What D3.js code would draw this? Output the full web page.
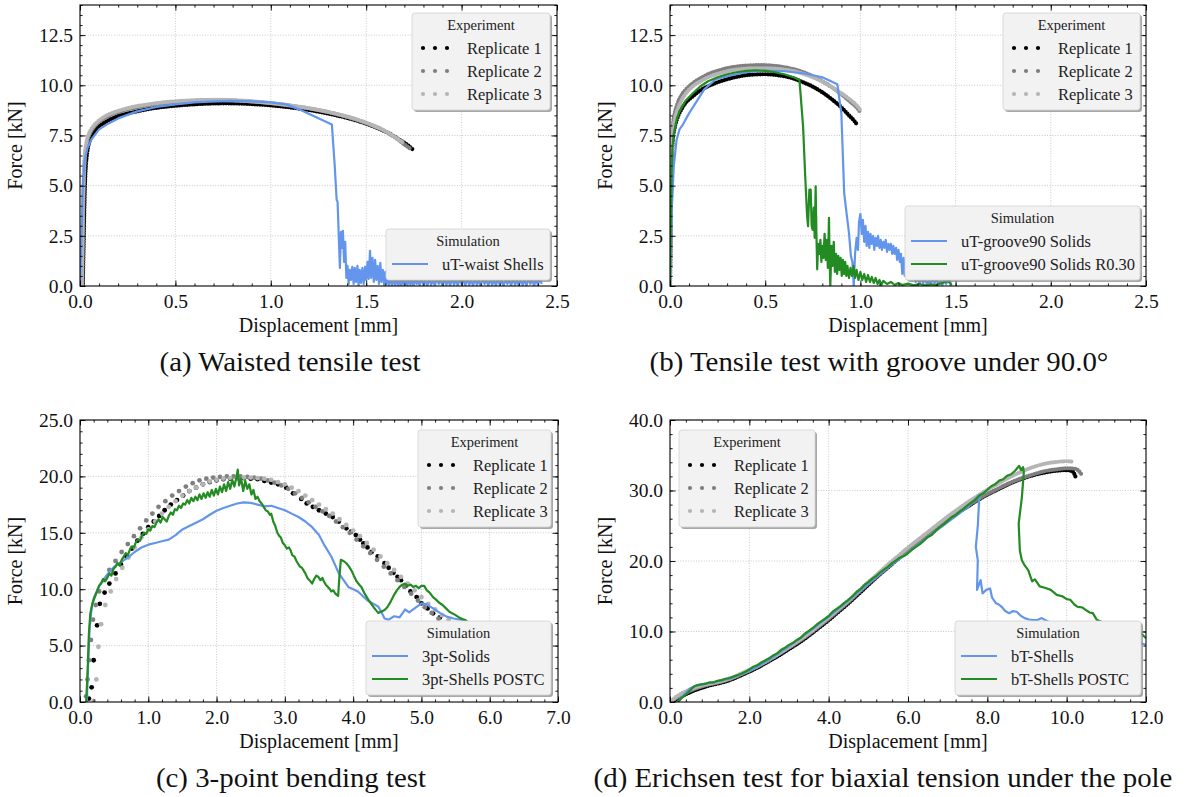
<!DOCTYPE html>
<html>
<head>
<meta charset="utf-8">
<script src="https://cdn.jsdelivr.net/npm/d3@7"></script>
<style>
  body { margin: 0; background: #ffffff; }
  svg { display: block; }
</style>
</head>
<body>
<svg id="fig" width="1189" height="797"></svg>
<script>
// ---------------------------------------------------------------------------
// Force–displacement curves: experiment replicates and simulations
// ---------------------------------------------------------------------------

// Tick values
const ticksTensileX = [0.0, 0.5, 1.0, 1.5, 2.0, 2.5];
const ticksTensileY = [0.0, 2.5, 5.0, 7.5, 10.0, 12.5];
const ticksBendingX = [0, 1, 2, 3, 4, 5, 6, 7];
const ticksBendingY = [0, 5, 10, 15, 20, 25];
const ticksErichsenX = [0, 2, 4, 6, 8, 10, 12];
const ticksErichsenY = [0, 10, 20, 30, 40];

// Captions and legend labels
const captions = [
  "(a) Waisted tensile test",
  "(b) Tensile test with groove under 90.0°",
  "(c) 3-point bending test",
  "(d) Erichsen test for biaxial tension under the pole"
];
const replicateLabels = ["Replicate 1", "Replicate 2", "Replicate 3"];
const simLabelsA = ["uT-waist Shells"];
const simLabelsB = ["uT-groove90 Solids", "uT-groove90 Solids R0.30"];
const simLabelsC = ["3pt-Solids", "3pt-Shells POSTC"];
const simLabelsD = ["bT-Shells", "bT-Shells POSTC"];

// (a) waisted tensile test — [displacement mm, force kN]
const waistRep1 = [[0.015,0],[0.018,1.5],[0.021,3.0],[0.024,4.3],[0.027,5.3],[0.031,6.0],[0.036,6.5],[0.042,6.9],[0.05,7.2],[0.06,7.45],[0.08,7.75],[0.1,7.95],[0.13,8.15],[0.17,8.35],[0.22,8.52],[0.28,8.66],[0.35,8.8],[0.42,8.9],[0.5,8.98],[0.58,9.04],[0.66,9.08],[0.75,9.1],[0.84,9.09],[0.92,9.05],[1.0,9.0],[1.08,8.92],[1.16,8.82],[1.24,8.7],[1.32,8.55],[1.4,8.37],[1.48,8.15],[1.55,7.9],[1.62,7.6],[1.68,7.25],[1.72,7.0],[1.75,6.75]];
const waistRep2 = [[0.012,0],[0.015,2],[0.018,4],[0.022,5.5],[0.026,6.4],[0.032,6.9],[0.04,7.3],[0.05,7.55],[0.065,7.8],[0.085,8.05],[0.11,8.25],[0.14,8.43],[0.18,8.6],[0.23,8.75],[0.3,8.9],[0.38,9.03],[0.46,9.12],[0.55,9.2],[0.65,9.24],[0.75,9.25],[0.85,9.22],[0.95,9.15],[1.05,9.05],[1.15,8.92],[1.25,8.76],[1.35,8.55],[1.45,8.28],[1.53,8.0],[1.6,7.7],[1.66,7.35],[1.7,7.05],[1.73,6.85]];
const waistRep3 = [[0.01,0],[0.013,2.2],[0.016,4.2],[0.02,5.7],[0.025,6.5],[0.031,7.0],[0.04,7.4],[0.05,7.65],[0.065,7.9],[0.085,8.12],[0.11,8.32],[0.14,8.5],[0.18,8.66],[0.23,8.81],[0.3,8.96],[0.38,9.08],[0.46,9.17],[0.55,9.23],[0.65,9.27],[0.75,9.27],[0.85,9.23],[0.95,9.16],[1.05,9.06],[1.15,8.93],[1.25,8.77],[1.35,8.56],[1.45,8.3],[1.53,8.02],[1.6,7.72],[1.65,7.42],[1.7,7.1]];
const waistShells = [[0,0],[0.008,2.5],[0.015,5.0],[0.025,6.3],[0.04,6.9],[0.06,7.3],[0.1,7.8],[0.15,8.1],[0.2,8.35],[0.3,8.7],[0.4,8.92],[0.5,9.05],[0.6,9.15],[0.7,9.2],[0.8,9.22],[0.9,9.2],[1.0,9.15],[1.08,9.05],[1.148,8.8],[1.32,8.05],[1.335,6.0],[1.345,4.3],[1.35,4.2],[1.358,2.0],[1.362,0.9],[1.368,2.7],[1.372,1.9],[1.378,2.75],[1.384,1.2],[1.39,2.2],[1.396,0.4],[1.402,1.0],[1.408,0.1],[1.414,0.8],[1.42,0.3],[1.427,0.95],[1.434,0.1],[1.44,0.9],[1.447,0.2],[1.454,1.0],[1.46,0.0],[1.466,0.8],[1.473,0.15],[1.48,0.9],[1.487,0.1],[1.494,0.95],[1.5,0.3],[1.507,1.2],[1.513,0.35],[1.52,1.75],[1.526,0.4],[1.533,1.4],[1.54,0.2],[1.547,1.3],[1.553,0.3],[1.56,1.0],[1.567,0.1],[1.574,1.15],[1.58,0.2],[1.587,0.8],[1.594,0.05],[1.6,0.7],[1.607,0.1],[1.614,0.6],[1.62,0.05],[1.628,0.45],[1.636,0.0],[1.644,0.4],[1.652,0.05],[1.66,0.35],[1.668,0.0],[1.676,0.3],[1.684,0.0],[1.692,0.35],[1.7,0.05],[1.708,0.3],[1.716,0.0],[1.724,0.4],[1.732,0.05],[1.74,0.3],[1.748,0.0],[1.756,0.35],[1.764,0.1],[1.772,0.3],[1.78,0.0],[1.79,0.4],[1.8,0.05],[1.81,0.3],[1.82,0.0],[1.83,0.35],[1.84,0.05],[1.85,0.3],[1.86,0.0],[1.87,0.4],[1.88,0.1],[1.89,0.3],[1.9,0.0],[1.91,0.35],[1.92,0.05],[1.93,0.3],[1.94,0.0],[1.95,0.4],[1.96,0.05],[1.97,0.3],[1.98,0.0],[1.99,0.35],[2.0,0.1],[2.01,0.3],[2.02,0.0],[2.03,0.4],[2.04,0.05],[2.05,0.3],[2.06,0.0],[2.07,0.35],[2.08,0.05],[2.09,0.3],[2.1,0.0],[2.11,0.4],[2.12,0.1],[2.13,0.3],[2.14,0.0],[2.15,0.35],[2.16,0.05],[2.17,0.3],[2.18,0.0],[2.19,0.4],[2.2,0.05],[2.21,0.3],[2.22,0.0],[2.23,0.35],[2.24,0.1],[2.25,0.3],[2.26,0.0],[2.27,0.4],[2.28,0.05],[2.29,0.3],[2.3,0.0],[2.31,0.35],[2.32,0.05],[2.33,0.3],[2.34,0.0],[2.35,0.4],[2.36,0.1],[2.37,0.3],[2.38,0.0],[2.39,0.35],[2.4,0.05],[2.41,0.4],[2.42,0.1]];

// (b) tensile test with 90° groove
const grooveRep1 = [[0.0,0],[0.003,2],[0.006,4.5],[0.01,6.3],[0.015,7.3],[0.025,7.9],[0.04,8.4],[0.06,8.8],[0.08,9.1],[0.12,9.45],[0.16,9.75],[0.2,9.95],[0.25,10.15],[0.3,10.3],[0.35,10.42],[0.4,10.5],[0.45,10.54],[0.5,10.55],[0.55,10.52],[0.6,10.45],[0.65,10.33],[0.7,10.15],[0.75,9.93],[0.8,9.65],[0.85,9.3],[0.9,8.9],[0.94,8.5],[0.97,8.2],[0.985,8.0]];
const grooveRep2 = [[0.0,0],[0.003,3],[0.006,5.5],[0.01,7.2],[0.015,8.0],[0.025,8.6],[0.04,9.1],[0.06,9.5],[0.08,9.75],[0.12,10.1],[0.16,10.35],[0.2,10.55],[0.25,10.72],[0.3,10.85],[0.35,10.93],[0.4,10.98],[0.45,11.0],[0.5,11.0],[0.55,10.97],[0.6,10.9],[0.65,10.8],[0.7,10.65],[0.75,10.45],[0.8,10.2],[0.85,9.9],[0.9,9.55],[0.95,9.15],[0.98,8.9],[1.0,8.65]];
const grooveRep3 = [[0,0],[0.003,2.5],[0.006,5],[0.01,6.8],[0.015,7.7],[0.025,8.3],[0.04,8.8],[0.06,9.25],[0.08,9.55],[0.12,9.95],[0.16,10.2],[0.2,10.4],[0.25,10.57],[0.3,10.7],[0.35,10.78],[0.4,10.83],[0.45,10.85],[0.5,10.85],[0.55,10.83],[0.6,10.78],[0.65,10.7],[0.7,10.57],[0.75,10.4],[0.8,10.18],[0.85,9.9],[0.9,9.6],[0.95,9.25],[0.98,9.0],[1.0,8.75]];
const grooveSolids = [[0,0],[0.005,2],[0.01,4],[0.02,6],[0.035,7.3],[0.05,7.8],[0.065,8.0],[0.1,8.6],[0.14,9.2],[0.18,9.8],[0.24,10.3],[0.3,10.45],[0.4,10.65],[0.5,10.73],[0.6,10.7],[0.7,10.6],[0.8,10.4],[0.879,10.05],[0.9,8.6],[0.915,4.6],[0.925,3.8],[0.94,2.65],[0.95,1.5],[0.958,1.2],[0.965,0.0],[0.972,1.6],[0.98,2.4],[0.987,1.8],[0.993,3.2],[1.0,3.6],[1.007,2.6],[1.013,3.3],[1.02,2.2],[1.027,3.0],[1.033,2.0],[1.04,2.7],[1.047,1.9],[1.053,2.6],[1.06,2.1],[1.067,2.5],[1.073,1.8],[1.08,2.4],[1.087,2.0],[1.093,2.5],[1.1,1.9],[1.107,2.3],[1.113,1.8],[1.12,2.2],[1.127,1.9],[1.133,2.3],[1.14,1.7],[1.147,2.1],[1.153,1.8],[1.16,2.1],[1.167,1.6],[1.173,2.0],[1.18,1.6],[1.187,1.9],[1.193,1.3],[1.2,1.8],[1.207,1.2],[1.213,1.6],[1.22,0.6],[1.227,1.4],[1.233,0.5],[1.24,1.0],[1.25,0.4],[1.26,0.8],[1.27,0.3],[1.28,0.6],[1.29,0.2],[1.3,0.45],[1.31,0.1],[1.32,0.4],[1.33,0.15],[1.34,0.35],[1.35,0.05],[1.36,0.3],[1.37,0.1],[1.38,0.35],[1.39,0.15],[1.4,0.3],[1.41,0.1],[1.42,0.25],[1.43,0.05],[1.44,0.3],[1.45,0.1],[1.46,0.25],[1.47,0.4],[1.475,0.0]];
const grooveSolidsR030 = [[0,0],[0.004,3],[0.008,5.5],[0.012,6.8],[0.02,7.6],[0.035,8.3],[0.05,8.7],[0.08,9.2],[0.12,9.6],[0.16,9.95],[0.2,10.2],[0.25,10.4],[0.3,10.55],[0.35,10.65],[0.4,10.72],[0.45,10.75],[0.5,10.72],[0.55,10.65],[0.6,10.55],[0.65,10.4],[0.68,10.26],[0.699,7.95],[0.71,5.5],[0.72,3.5],[0.725,2.98],[0.732,4.8],[0.739,4.8],[0.744,3.0],[0.749,2.8],[0.755,3.9],[0.76,2.4],[0.765,4.97],[0.769,2.6],[0.773,0.83],[0.778,2.1],[0.785,1.6],[0.79,2.3],[0.795,1.2],[0.8,2.0],[0.806,1.4],[0.812,2.6],[0.818,1.3],[0.824,2.3],[0.829,0.9],[0.835,3.4],[0.838,1.5],[0.842,0.0],[0.848,2.0],[0.853,1.0],[0.86,2.2],[0.866,0.7],[0.872,1.6],[0.878,0.6],[0.884,1.5],[0.89,0.8],[0.896,1.4],[0.902,0.5],[0.908,1.3],[0.914,0.6],[0.92,1.2],[0.926,0.5],[0.932,1.0],[0.94,0.4],[0.948,0.9],[0.956,0.5],[0.964,1.0],[0.972,0.4],[0.98,0.8],[0.99,0.3],[1.0,0.7],[1.01,0.3],[1.02,0.6],[1.03,0.2],[1.04,0.55],[1.05,0.2],[1.06,0.45],[1.07,0.15],[1.08,0.4],[1.09,0.1],[1.1,0.3],[1.11,0.05],[1.12,0.25],[1.14,0.1],[1.16,0.2],[1.18,0.05],[1.2,0.15],[1.22,0.05],[1.25,0.12],[1.28,0.03],[1.31,0.1],[1.34,0.03],[1.37,0.08],[1.4,0.05],[1.43,0.15],[1.46,0.25],[1.48,0.05]];

// (c) 3-point bending — experiment samples are sparse, drawn one marker per sample
const bendRep1 = [[0.13,0.3],[0.17,1.3],[0.2,3.7],[0.25,6.8],[0.29,8.7],[0.36,9.7],[0.43,10.5],[0.52,11.4],[0.6,12.2],[0.68,12.9],[0.76,13.6],[0.84,14.3],[0.92,14.9],[1.0,15.5],[1.08,16.0],[1.16,16.5],[1.24,17.0],[1.33,17.5],[1.42,17.9],[1.51,18.3],[1.6,18.7],[1.7,19.0],[1.8,19.3],[1.9,19.5],[2.0,19.65],[2.1,19.75],[2.2,19.8],[2.3,19.85],[2.4,19.85],[2.5,19.8],[2.6,19.75],[2.7,19.6],[2.8,19.45],[2.9,19.3],[3.02,19.0],[3.12,18.5],[3.24,18.0],[3.32,17.6],[3.41,17.3],[3.5,17.0],[3.6,16.7],[3.7,16.4],[3.79,16.0],[3.9,15.4],[3.97,15.1],[4.04,14.8],[4.1,14.4],[4.15,14.05],[4.21,13.7],[4.27,13.3],[4.36,12.9],[4.46,12.3],[4.52,11.9],[4.59,11.45],[4.65,11.1],[4.7,10.8],[4.77,10.3],[4.84,9.8],[4.93,9.3],[5.0,8.75],[5.09,8.3],[5.17,7.86],[5.27,7.5]];
const bendRep2 = [[0.09,0.5],[0.11,2.0],[0.13,3.7],[0.16,5.5],[0.19,7.3],[0.23,8.6],[0.28,9.8],[0.35,10.8],[0.43,11.7],[0.52,12.5],[0.61,13.3],[0.7,14.0],[0.79,14.7],[0.88,15.4],[0.97,16.1],[1.06,16.7],[1.15,17.3],[1.25,17.8],[1.35,18.3],[1.45,18.7],[1.55,19.1],[1.65,19.4],[1.75,19.65],[1.85,19.8],[1.95,19.9],[2.05,19.95],[2.15,20.0],[2.25,20.0],[2.35,20.0],[2.45,19.95],[2.55,19.9],[2.65,19.8],[2.75,19.65],[2.85,19.45],[2.95,19.2],[3.05,18.9],[3.15,18.5],[3.25,18.1],[3.35,17.7],[3.45,17.3],[3.55,16.9],[3.65,16.5],[3.75,16.0],[3.85,15.5],[3.95,15.0],[4.05,14.4],[4.15,13.8],[4.25,13.2],[4.35,12.6],[4.45,12.0],[4.55,11.4],[4.65,10.8],[4.75,10.2],[4.85,9.6],[4.95,9.0],[5.05,8.4],[5.15,7.9],[5.25,7.4]];
const bendRep3 = [[0.2,0.1],[0.24,2.0],[0.27,4.9],[0.31,6.9],[0.37,8.6],[0.45,9.8],[0.53,10.9],[0.62,11.9],[0.71,12.8],[0.8,13.7],[0.9,14.6],[1.0,15.3],[1.1,16.0],[1.2,16.7],[1.3,17.3],[1.4,17.8],[1.5,18.3],[1.6,18.7],[1.7,19.0],[1.8,19.3],[1.9,19.55],[2.0,19.7],[2.1,19.8],[2.2,19.85],[2.3,19.9],[2.4,19.9],[2.5,19.9],[2.6,19.85],[2.7,19.8],[2.8,19.7],[2.9,19.5],[3.0,19.3],[3.1,19.0],[3.2,18.7],[3.3,18.3],[3.4,17.9],[3.5,17.5],[3.6,17.1],[3.7,16.7],[3.8,16.2],[3.9,15.7],[4.0,15.2],[4.1,14.7],[4.2,14.1],[4.3,13.5],[4.4,12.9],[4.5,12.3],[4.6,11.7],[4.7,11.1],[4.8,10.5],[4.9,9.9],[5.0,9.3],[5.1,8.7],[5.2,8.2],[5.3,7.7],[5.4,7.3]];
const bendSolids = [[0.1,0],[0.12,3.5],[0.14,6.5],[0.17,8.3],[0.2,9.2],[0.25,9.9],[0.3,10.5],[0.4,11.3],[0.5,12.0],[0.6,12.4],[0.7,12.8],[0.8,13.3],[0.9,13.7],[1.0,13.95],[1.1,14.1],[1.2,14.25],[1.3,14.4],[1.4,14.8],[1.5,15.3],[1.6,15.6],[1.7,15.9],[1.8,16.2],[1.9,16.6],[2.0,16.95],[2.1,17.2],[2.2,17.4],[2.3,17.6],[2.4,17.7],[2.5,17.65],[2.6,17.5],[2.7,17.35],[2.8,17.4],[2.9,17.2],[3.0,17.0],[3.1,16.7],[3.2,16.4],[3.3,16.0],[3.4,15.5],[3.5,14.8],[3.57,14.0],[3.68,12.9],[3.79,11.4],[3.86,10.8],[3.93,10.2],[4.0,10.0],[4.07,9.8],[4.14,9.4],[4.21,9.0],[4.3,8.7],[4.37,8.45],[4.42,7.9],[4.46,7.4],[4.52,7.3],[4.6,7.6],[4.68,7.5],[4.76,8.2],[4.82,7.95],[4.9,8.3],[5.0,8.75],[5.08,8.65],[5.17,8.3],[5.27,7.9],[5.37,7.57],[5.47,7.4],[5.59,7.27],[5.7,7.0],[5.8,6.8]];
const bendShellsPostc = [[0.09,0],[0.11,2.5],[0.13,6.0],[0.15,7.8],[0.18,8.7],[0.21,9.2],[0.25,9.8],[0.28,10.3],[0.31,10.5],[0.34,10.9],[0.37,10.7],[0.4,11.0],[0.43,11.4],[0.46,11.2],[0.49,11.8],[0.52,12.0],[0.55,12.3],[0.58,12.1],[0.61,12.6],[0.64,12.9],[0.67,13.2],[0.7,13.0],[0.73,13.5],[0.76,13.8],[0.79,13.7],[0.82,14.2],[0.85,14.4],[0.88,14.3],[0.91,14.8],[0.94,15.0],[0.97,14.9],[1.0,15.3],[1.03,15.2],[1.06,15.6],[1.09,15.5],[1.12,15.9],[1.15,16.2],[1.18,15.9],[1.21,16.4],[1.24,16.2],[1.27,16.0],[1.3,16.5],[1.33,16.8],[1.36,16.6],[1.39,17.1],[1.42,17.0],[1.45,17.4],[1.48,17.2],[1.51,17.6],[1.54,17.5],[1.57,17.9],[1.6,17.6],[1.63,18.1],[1.66,17.8],[1.69,18.2],[1.72,17.9],[1.75,18.4],[1.78,18.0],[1.81,18.5],[1.84,18.1],[1.87,18.6],[1.9,18.2],[1.93,18.8],[1.96,18.3],[1.99,18.9],[2.02,18.4],[2.05,19.1],[2.08,18.6],[2.11,19.3],[2.14,18.7],[2.17,19.5],[2.2,18.9],[2.23,19.7],[2.26,19.1],[2.29,19.9],[2.31,20.6],[2.33,19.2],[2.36,19.8],[2.39,18.7],[2.42,19.6],[2.45,18.9],[2.48,19.3],[2.51,18.4],[2.54,18.8],[2.57,18.0],[2.6,18.2],[2.63,17.8],[2.66,17.6],[2.69,17.3],[2.72,17.0],[2.75,16.9],[2.78,16.6],[2.8,16.7],[2.83,16.0],[2.86,15.6],[2.89,15.0],[2.92,14.7],[2.94,14.6],[2.97,14.1],[3.0,13.9],[3.03,13.6],[3.06,13.7],[3.08,13.5],[3.11,13.0],[3.14,12.9],[3.17,12.5],[3.19,12.3],[3.22,12.0],[3.25,11.9],[3.28,11.6],[3.3,11.4],[3.33,11.0],[3.36,10.8],[3.4,10.5],[3.43,10.9],[3.46,11.2],[3.49,11.1],[3.52,10.8],[3.55,11.0],[3.57,10.7],[3.6,10.4],[3.63,10.2],[3.66,10.0],[3.68,9.8],[3.71,9.9],[3.74,9.6],[3.78,9.4],[3.8,11.2],[3.82,12.6],[3.86,12.5],[3.9,12.3],[3.94,12.0],[3.98,11.6],[4.01,11.2],[4.05,10.7],[4.09,10.4],[4.12,10.2],[4.16,9.7],[4.2,9.3],[4.23,9.0],[4.26,8.75],[4.3,8.4],[4.34,8.1],[4.37,7.9],[4.41,8.0],[4.46,8.15],[4.5,8.4],[4.55,8.9],[4.6,9.5],[4.64,9.9],[4.68,10.2],[4.72,10.4],[4.76,10.5],[4.8,10.3],[4.84,10.4],[4.88,10.2],[4.92,10.3],[4.96,10.1],[5.0,10.3],[5.04,10.3],[5.08,9.9],[5.12,9.7],[5.17,9.3],[5.21,9.1],[5.26,8.8],[5.31,8.6],[5.36,8.3],[5.41,8.0],[5.45,7.86],[5.5,7.7],[5.55,7.5],[5.6,7.35],[5.64,7.27],[5.7,7.0]];

// (d) Erichsen test
const erichRep1 = [[0,0],[0.2,0.5],[0.4,1.1],[0.6,1.6],[0.8,2.0],[1.0,2.35],[1.2,2.6],[1.4,2.9],[1.6,3.3],[1.8,3.8],[2.0,4.3],[2.25,5.0],[2.5,5.8],[2.75,6.6],[3.0,7.5],[3.25,8.4],[3.5,9.4],[3.75,10.5],[4.0,11.6],[4.25,12.8],[4.5,14.0],[4.75,15.3],[5.0,16.6],[5.25,17.9],[5.5,19.1],[5.75,20.3],[6.0,21.5],[6.25,22.6],[6.5,23.7],[6.75,24.8],[7.0,25.8],[7.25,26.8],[7.5,27.7],[7.75,28.6],[8.0,29.4],[8.25,30.1],[8.5,30.8],[8.75,31.4],[9.0,31.9],[9.25,32.3],[9.5,32.6],[9.75,32.8],[10.0,32.9],[10.15,32.7],[10.22,32.0]];
const erichRep2 = [[0,0],[0.2,0.7],[0.4,1.3],[0.6,1.8],[0.8,2.2],[1.0,2.5],[1.2,2.75],[1.4,3.05],[1.6,3.45],[1.8,3.95],[2.0,4.45],[2.25,5.15],[2.5,5.95],[2.75,6.8],[3.0,7.7],[3.25,8.6],[3.5,9.6],[3.75,10.7],[4.0,11.8],[4.25,13.0],[4.5,14.2],[4.75,15.5],[5.0,16.8],[5.25,18.0],[5.5,19.2],[5.75,20.4],[6.0,21.6],[6.25,22.7],[6.5,23.8],[6.75,24.9],[7.0,25.9],[7.25,26.9],[7.5,27.8],[7.75,28.7],[8.0,29.5],[8.25,30.2],[8.5,30.9],[8.75,31.5],[9.0,32.0],[9.25,32.45],[9.5,32.8],[9.75,33.0],[10.0,33.15],[10.2,33.1],[10.3,32.8],[10.37,32.3]];
const erichRep3 = [[0,0],[0.2,0.9],[0.4,1.5],[0.6,2.0],[0.8,2.35],[1.0,2.6],[1.2,2.85],[1.4,3.15],[1.6,3.55],[1.8,4.05],[2.0,4.55],[2.25,5.25],[2.5,6.05],[2.75,6.9],[3.0,7.8],[3.25,8.75],[3.5,9.75],[3.75,10.85],[4.0,12.0],[4.25,13.2],[4.5,14.4],[4.75,15.7],[5.0,17.0],[5.25,18.25],[5.5,19.5],[5.75,20.7],[6.0,21.9],[6.25,23.0],[6.5,24.1],[6.75,25.2],[7.0,26.3],[7.25,27.3],[7.5,28.3],[7.75,29.2],[8.0,30.1],[8.25,30.9],[8.5,31.7],[8.75,32.4],[9.0,33.0],[9.25,33.5],[9.5,33.85],[9.75,34.05],[10.0,34.15],[10.13,34.1]];
const erichShells = [[0.2,0],[0.35,1.0],[0.5,1.9],[0.7,2.4],[1.0,2.7],[1.5,3.3],[2.0,4.4],[2.5,6.0],[3.0,7.9],[3.5,10.0],[4.0,12.1],[4.5,14.4],[5.0,16.8],[5.5,19.1],[6.0,21.2],[6.5,23.4],[7.0,25.5],[7.5,27.6],[7.8,29.4],[7.76,25.0],[7.71,22.0],[7.76,20.1],[7.74,15.9],[7.83,17.3],[7.88,15.4],[7.97,15.9],[8.07,16.1],[8.12,14.8],[8.22,14.0],[8.3,13.8],[8.36,13.5],[8.45,12.9],[8.55,12.6],[8.65,12.9],[8.74,12.8],[8.85,12.2],[8.94,11.9],[9.05,11.7],[9.13,11.65],[9.25,11.6],[9.37,11.9],[9.6,11.2],[10.0,10.5],[10.5,9.8],[11.0,9.2],[11.5,8.6],[11.86,8.35],[12.0,8.1]];
const erichShellsPostc = [[0.2,0],[0.3,0.6],[0.45,1.3],[0.6,2.2],[0.7,2.4],[0.8,2.5],[0.9,2.6],[1.0,2.8],[1.1,2.75],[1.2,3.0],[1.3,3.1],[1.4,3.3],[1.5,3.4],[1.6,3.6],[1.7,3.8],[1.8,4.0],[1.9,4.3],[2.0,4.6],[2.1,5.0],[2.2,5.2],[2.3,5.6],[2.4,5.9],[2.5,6.2],[2.6,6.6],[2.7,6.9],[2.8,7.4],[2.9,7.7],[3.0,8.1],[3.1,8.4],[3.2,8.8],[3.3,9.1],[3.4,9.7],[3.5,10.1],[3.6,10.5],[3.7,11.0],[3.8,11.4],[3.9,11.8],[4.0,12.2],[4.1,12.8],[4.2,13.2],[4.3,13.6],[4.4,14.1],[4.5,14.5],[4.6,15.0],[4.7,15.6],[4.8,16.0],[4.9,16.6],[5.0,17.0],[5.1,17.5],[5.2,17.9],[5.3,18.4],[5.4,18.8],[5.5,19.2],[5.6,19.7],[5.7,20.1],[5.8,20.5],[5.9,20.7],[6.0,21.1],[6.1,21.6],[6.2,22.0],[6.3,22.4],[6.4,22.9],[6.5,23.4],[6.6,23.7],[6.7,24.3],[6.8,24.8],[6.9,25.2],[7.0,25.7],[7.1,26.2],[7.2,26.5],[7.3,27.0],[7.4,27.4],[7.5,27.9],[7.6,28.3],[7.7,28.7],[7.8,29.3],[7.9,29.6],[8.0,30.1],[8.1,30.6],[8.2,30.9],[8.3,31.4],[8.4,31.6],[8.5,32.1],[8.6,32.3],[8.7,32.8],[8.8,33.5],[8.85,32.9],[8.9,33.3],[8.92,32.6],[8.87,29.0],[8.79,25.3],[8.82,21.5],[8.87,20.1],[8.95,19.3],[9.03,18.7],[9.13,17.1],[9.2,17.4],[9.32,16.4],[9.45,16.2],[9.6,15.9],[9.75,15.2],[9.89,15.0],[10.0,14.6],[10.09,14.5],[10.2,13.8],[10.28,13.5],[10.4,13.4],[10.47,13.1],[10.58,12.7],[10.66,12.6],[10.76,11.65],[10.9,11.3],[11.2,10.8],[11.5,10.3],[11.8,9.9],[11.9,9.6],[12.0,9.05]];

// ---------------------------------------------------------------------------
// Styling and layout
// ---------------------------------------------------------------------------
const FONT = '"Liberation Serif", "Times New Roman", serif';
const repColors = ["#000000", "#7f7f7f", "#b5b5b5"];
const simColors = ["#6495ed", "#228b22"];
const fmt = d3.format(".1f");

const panels = [
  { box: [80, 5, 557, 286], xDom: [0, 2.5], yDom: [0, 14], xTicks: ticksTensileX, yTicks: ticksTensileY,
    xMinor: 0.1, yMinor: 0.5, reps: [waistRep1, waistRep2, waistRep3], repMode: "dense",
    sims: [waistShells], simLabels: simLabelsA, caption: captions[0], capX: 290,
    expLegend: [412, 13, 138], simLegend: [386, 229, 164] },
  { box: [670, 5, 1146, 286], xDom: [0, 2.5], yDom: [0, 14], xTicks: ticksTensileX, yTicks: ticksTensileY,
    xMinor: 0.1, yMinor: 0.5, reps: [grooveRep1, grooveRep2, grooveRep3], repMode: "dense",
    sims: [grooveSolids, grooveSolidsR030], simLabels: simLabelsB, caption: captions[1], capX: 879,
    expLegend: [1003, 13, 137], simLegend: [905, 206, 235] },
  { box: [80, 420, 558, 702], xDom: [0, 7], yDom: [0, 25], xTicks: ticksBendingX, yTicks: ticksBendingY,
    xMinor: 0.2, yMinor: 1, reps: [bendRep1, bendRep2, bendRep3], repMode: "sparse",
    sims: [bendSolids, bendShellsPostc], simLabels: simLabelsC, caption: captions[2], capX: 291,
    expLegend: [418, 430, 133], simLegend: [366, 621, 185] },
  { box: [670, 420, 1146, 702], xDom: [0, 12], yDom: [0, 40], xTicks: ticksErichsenX, yTicks: ticksErichsenY,
    xMinor: 0.4, yMinor: 2, reps: [erichRep1, erichRep2, erichRep3], repMode: "dense",
    sims: [erichShells, erichShellsPostc], simLabels: simLabelsD, caption: captions[3], capX: 883,
    expLegend: [679, 430, 136], simLegend: [955, 621, 186] }
];

const svg = d3.select("#fig");
svg.append("rect").attr("width", 1189).attr("height", 797).attr("fill", "#fff");
const defs = svg.append("defs");
const shadow = defs.append("filter").attr("id", "legshadow").attr("x", "-10%").attr("y", "-10%").attr("width", "130%").attr("height", "130%");
shadow.append("feGaussianBlur").attr("stdDeviation", 0.6);

function range(lo, hi, step) {
  const n = Math.round((hi - lo) / step);
  return d3.range(n + 1).map(i => lo + i * step);
}

panels.forEach((p, idx) => {
  const [L, T, R, B] = p.box;
  const x = d3.scaleLinear().domain(p.xDom).range([L, R]);
  const y = d3.scaleLinear().domain(p.yDom).range([B, T]);
  const g = svg.append("g");

  const clipId = "clip" + idx;
  defs.append("clipPath").attr("id", clipId)
    .append("rect").attr("x", L).attr("y", T).attr("width", R - L).attr("height", B - T);

  // dotted grid at major ticks
  const grid = g.append("g").attr("stroke", "#bdbdbd").attr("stroke-width", 0.8).attr("stroke-dasharray", "1,1.6");
  grid.selectAll(".gx").data(p.xTicks.slice(1, -1)).join("line")
    .attr("x1", d => x(d)).attr("x2", d => x(d)).attr("y1", T).attr("y2", B);
  grid.selectAll(".gy").data(p.yTicks.slice(1)).join("line")
    .attr("y1", d => y(d)).attr("y2", d => y(d)).attr("x1", L).attr("x2", R);

  const plot = g.append("g").attr("clip-path", `url(#${clipId})`);

  // experiment replicates
  const line = d3.line().x(d => x(d[0])).y(d => y(d[1]));
  p.reps.forEach((rep, i) => {
    if (p.repMode === "dense") {
      plot.append("path").datum(rep)
        .attr("d", line.curve(d3.curveMonotoneX))
        .attr("fill", "none").attr("stroke", repColors[i])
        .attr("stroke-width", 4.2).attr("stroke-linecap", "round")
        .attr("stroke-dasharray", "0 2.6");
    } else {
      plot.append("g").attr("fill", repColors[i]).selectAll("circle").data(rep).join("circle")
        .attr("cx", d => x(d[0])).attr("cy", d => y(d[1])).attr("r", 2.4);
    }
  });

  // simulations
  const simLine = d3.line().x(d => x(d[0])).y(d => y(d[1])).curve(d3.curveLinear);
  p.sims.forEach((s, i) => {
    plot.append("path").datum(s).attr("d", simLine)
      .attr("fill", "none").attr("stroke", simColors[i])
      .attr("stroke-width", 2.2).attr("stroke-linejoin", "round");
  });

  // axes with inward major/minor ticks on all four sides
  const minorX = range(p.xDom[0], p.xDom[1], p.xMinor);
  const minorY = range(p.yDom[0], p.yDom[1], p.yMinor);
  const axStyle = sel => {
    sel.select(".domain").remove();
    sel.selectAll("line").attr("stroke", "#000").attr("stroke-width", 0.9);
    sel.attr("font-family", FONT).attr("font-size", 19.5);
    sel.selectAll("text").attr("fill", "#111");
  };
  g.append("g").attr("transform", `translate(0,${B})`)
    .call(d3.axisBottom(x).tickValues(minorX).tickSize(-2.6).tickFormat("")).call(axStyle);
  g.append("g").attr("transform", `translate(0,${B})`)
    .call(d3.axisBottom(x).tickValues(p.xTicks).tickSize(-5.5).tickPadding(8).tickFormat(fmt)).call(axStyle);
  g.append("g").attr("transform", `translate(0,${T})`)
    .call(d3.axisTop(x).tickValues(minorX).tickSize(-2.6).tickFormat("")).call(axStyle);
  g.append("g").attr("transform", `translate(0,${T})`)
    .call(d3.axisTop(x).tickValues(p.xTicks).tickSize(-5.5).tickFormat("")).call(axStyle);
  g.append("g").attr("transform", `translate(${L},0)`)
    .call(d3.axisLeft(y).tickValues(minorY).tickSize(-2.6).tickFormat("")).call(axStyle);
  g.append("g").attr("transform", `translate(${L},0)`)
    .call(d3.axisLeft(y).tickValues(p.yTicks).tickSize(-5.5).tickPadding(7).tickFormat(fmt)).call(axStyle);
  g.append("g").attr("transform", `translate(${R},0)`)
    .call(d3.axisRight(y).tickValues(minorY).tickSize(-2.6).tickFormat("")).call(axStyle);
  g.append("g").attr("transform", `translate(${R},0)`)
    .call(d3.axisRight(y).tickValues(p.yTicks).tickSize(-5.5).tickFormat("")).call(axStyle);

  g.append("rect").attr("x", L).attr("y", T).attr("width", R - L).attr("height", B - T)
    .attr("fill", "none").attr("stroke", "#000").attr("stroke-width", 1.1);

  // axis titles
  g.append("text").attr("x", (L + R) / 2).attr("y", B + 46).attr("text-anchor", "middle")
    .attr("font-family", FONT).attr("font-size", 20).attr("fill", "#111").text("Displacement [mm]");
  g.append("text").attr("transform", `translate(${L - 58},${(T + B) / 2}) rotate(-90)`)
    .attr("text-anchor", "middle").attr("font-family", FONT).attr("font-size", 20).attr("fill", "#111")
    .text("Force [kN]");

  // sub-figure caption (slightly widened serif face)
  g.append("g").attr("transform", `translate(${p.capX},${B + 85}) scale(1.09,1)`)
    .append("text").attr("x", 0).attr("y", 0).attr("text-anchor", "middle")
    .attr("font-family", FONT).attr("font-size", 26.5).attr("fill", "#111")
    .text(p.caption);

  // legends
  drawLegend(g, p.expLegend, "Experiment", replicateLabels.map((t, i) => ({ label: t, color: repColors[i], kind: "dots" })));
  drawLegend(g, p.simLegend, "Simulation", p.simLabels.map((t, i) => ({ label: t, color: simColors[i], kind: "line" })));
});

function drawLegend(g, spec, title, items) {
  const [lx, ly, lw] = spec;
  const lh = 28 + items.length * 23;
  const lg = g.append("g");
  lg.append("rect").attr("x", lx + 2).attr("y", ly + 2).attr("width", lw).attr("height", lh)
    .attr("rx", 3).attr("fill", "#8c8c8c").attr("opacity", 0.75).attr("filter", "url(#legshadow)");
  lg.append("rect").attr("x", lx).attr("y", ly).attr("width", lw).attr("height", lh)
    .attr("rx", 3).attr("fill", "#f2f2f2").attr("stroke", "#d2d2d2").attr("stroke-width", 0.8);
  lg.append("text").attr("x", lx + lw / 2).attr("y", ly + 17).attr("text-anchor", "middle")
    .attr("font-family", FONT).attr("font-size", 14.5).attr("fill", "#222").text(title);
  items.forEach((it, i) => {
    const cy = ly + 35 + i * 23;
    if (it.kind === "dots") {
      lg.append("g").attr("fill", it.color).selectAll("circle").data([0, 1, 2]).join("circle")
        .attr("cx", k => lx + 11 + k * 12).attr("cy", cy).attr("r", 2.1);
    } else {
      lg.append("line").attr("x1", lx + 6).attr("x2", lx + 42).attr("y1", cy).attr("y2", cy)
        .attr("stroke", it.color).attr("stroke-width", 2.2);
    }
    lg.append("text").attr("x", lx + (it.kind === "dots" ? 55 : 56)).attr("y", cy + 5.5)
      .attr("font-family", FONT).attr("font-size", 16.5).attr("fill", "#222").text(it.label);
  });
}
</script>
</body>
</html>
